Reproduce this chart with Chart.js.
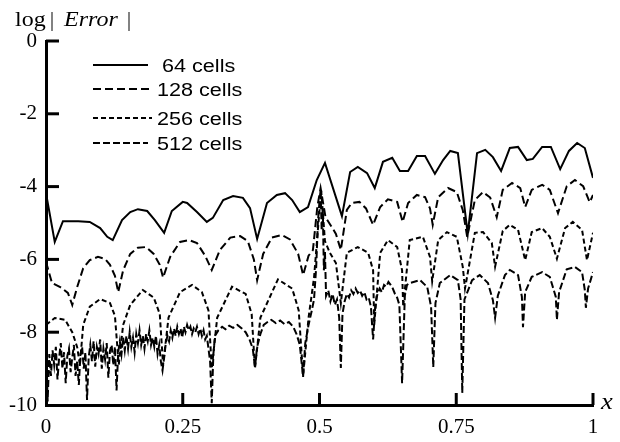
<!DOCTYPE html>
<html>
<head>
<meta charset="utf-8">
<script src="https://cdn.jsdelivr.net/npm/chart.js@4.4.1/dist/chart.umd.min.js"></script>
<style>
  html, body { margin: 0; padding: 0; background: #fff; }
  canvas { display: block; }
</style>
</head>
<body>
<canvas id="errChart" width="620" height="442"></canvas>
<script>
const xTicks = [0, 0.25, 0.5, 0.75, 1]
const xTickLabels = ['0', '0.25', '0.5', '0.75', '1']
const yTicks = [0, -2, -4, -6, -8, -10]
const yTickLabels = ['0', '-2', '-4', '-6', '-8', '-10']
const seriesNames = ['64 cells', '128 cells', '256 cells', '512 cells']

// [x, log|error|]
const cells64 = [
    [0, -4.18], [0.016, -5.52], [0.031, -4.95], [0.059, -4.95], [0.080, -4.97], [0.099, -5.14],
    [0.112, -5.38], [0.122, -5.47], [0.139, -4.92], [0.154, -4.70], [0.168, -4.62], [0.185, -4.67],
    [0.199, -4.92], [0.216, -5.27], [0.230, -4.67], [0.250, -4.42], [0.258, -4.45], [0.276, -4.70],
    [0.294, -4.97], [0.305, -4.86], [0.324, -4.37], [0.342, -4.26], [0.360, -4.31], [0.373, -4.59],
    [0.386, -5.44], [0.404, -4.45], [0.422, -4.23], [0.437, -4.18], [0.450, -4.37], [0.464, -4.70],
    [0.479, -4.56], [0.495, -3.82], [0.510, -3.35], [0.541, -4.81], [0.556, -3.60], [0.570, -3.46],
    [0.587, -3.63], [0.601, -4.04], [0.616, -3.32], [0.633, -3.21], [0.647, -3.57], [0.662, -3.57],
    [0.678, -3.16], [0.693, -3.16], [0.711, -3.65], [0.726, -3.27], [0.739, -3.02], [0.753, -3.08],
    [0.771, -5.30], [0.788, -3.08], [0.803, -2.99], [0.817, -3.19], [0.832, -3.57], [0.848, -2.94],
    [0.863, -2.91], [0.879, -3.27], [0.890, -3.24], [0.907, -2.91], [0.923, -2.91], [0.940, -3.52],
    [0.956, -3.02], [0.971, -2.80], [0.985, -2.94], [1.000, -3.76]
]

const cells128 = [
    [0, -6.07], [0.011, -6.65], [0.026, -6.76], [0.040, -6.92], [0.048, -7.25], [0.057, -6.76],
    [0.068, -6.24], [0.080, -6.02], [0.095, -5.93], [0.108, -5.99], [0.117, -6.15], [0.126, -6.45],
    [0.132, -6.90], [0.141, -6.30], [0.154, -5.85], [0.168, -5.68], [0.183, -5.66], [0.197, -5.85],
    [0.208, -6.15], [0.214, -6.50], [0.227, -5.93], [0.245, -5.52], [0.262, -5.47], [0.276, -5.55],
    [0.291, -5.90], [0.303, -6.29], [0.318, -5.74], [0.337, -5.40], [0.355, -5.36], [0.369, -5.50],
    [0.380, -6.00], [0.386, -6.57], [0.397, -5.85], [0.413, -5.40], [0.431, -5.33], [0.446, -5.45],
    [0.461, -5.85], [0.470, -6.43], [0.480, -5.90], [0.488, -5.74], [0.496, -4.56], [0.502, -4.04],
    [0.511, -4.84], [0.522, -5.10], [0.530, -5.30], [0.539, -5.74], [0.550, -4.64], [0.559, -4.45],
    [0.573, -4.42], [0.585, -4.60], [0.598, -5.05], [0.611, -4.56], [0.625, -4.35], [0.642, -4.42],
    [0.652, -4.97], [0.662, -4.45], [0.678, -4.23], [0.693, -4.29], [0.702, -4.60], [0.707, -5.05],
    [0.717, -4.29], [0.735, -4.04], [0.751, -4.15], [0.762, -4.65], [0.770, -5.38], [0.784, -4.37],
    [0.799, -4.15], [0.812, -4.30], [0.824, -4.84], [0.835, -4.09], [0.852, -3.90], [0.867, -4.04],
    [0.876, -4.56], [0.888, -4.09], [0.907, -3.95], [0.921, -4.09], [0.936, -4.73], [0.952, -3.99],
    [0.967, -3.82], [0.982, -3.99], [0.994, -4.43], [1.000, -4.23]
]

const cells256 = [
    [0, -7.80], [0.016, -7.61], [0.035, -7.66], [0.048, -8.00], [0.057, -8.41], [0.062, -8.90],
    [0.068, -7.80], [0.080, -7.30], [0.099, -7.09], [0.117, -7.20], [0.126, -7.55], [0.133, -8.90],
    [0.141, -7.80], [0.154, -7.25], [0.177, -6.84], [0.197, -7.05], [0.208, -7.50], [0.214, -8.90],
    [0.224, -7.60], [0.245, -6.90], [0.267, -6.70], [0.285, -6.90], [0.297, -7.40], [0.303, -9.00],
    [0.313, -7.60], [0.340, -6.75], [0.365, -6.95], [0.376, -7.50], [0.382, -9.00], [0.392, -7.60],
    [0.424, -6.55], [0.450, -6.80], [0.462, -7.40], [0.470, -9.20], [0.480, -7.60], [0.490, -6.50],
    [0.497, -5.20], [0.503, -4.10], [0.510, -5.50], [0.519, -5.82], [0.530, -6.10], [0.539, -7.20],
    [0.550, -5.82], [0.570, -5.66], [0.589, -5.82], [0.598, -6.30], [0.600, -7.80], [0.611, -5.82],
    [0.625, -5.47], [0.642, -5.66], [0.651, -6.30], [0.653, -7.30], [0.665, -5.47], [0.689, -5.38],
    [0.702, -5.93], [0.706, -6.60], [0.717, -5.47], [0.733, -5.25], [0.751, -5.38], [0.762, -6.21],
    [0.766, -6.80], [0.784, -5.27], [0.799, -5.25], [0.815, -5.55], [0.821, -6.20], [0.835, -5.22],
    [0.848, -5.05], [0.863, -5.19], [0.876, -6.02], [0.888, -5.25], [0.907, -5.14], [0.921, -5.38],
    [0.934, -5.98], [0.949, -5.14], [0.963, -4.97], [0.980, -5.19], [0.989, -6.02], [1.000, -5.27]
]

const cells512 = [
    [0, -8.10], [0.003, -9.90], [0.006, -8.60], [0.009, -9.20], [0.012, -8.50], [0.015, -8.90],
    [0.018, -8.40], [0.021, -9.30], [0.024, -8.70], [0.027, -8.30], [0.030, -9.00], [0.033, -8.55],
    [0.036, -9.40], [0.039, -8.65], [0.042, -8.45], [0.045, -9.10], [0.048, -8.70], [0.051, -8.35],
    [0.054, -9.20], [0.057, -8.80], [0.060, -9.45], [0.063, -8.60], [0.066, -8.40], [0.069, -9.00],
    [0.072, -8.55], [0.075, -9.86], [0.078, -8.70], [0.081, -8.35], [0.084, -8.80], [0.087, -8.25],
    [0.090, -8.95], [0.093, -8.40], [0.096, -8.60], [0.099, -8.20], [0.102, -9.00], [0.105, -8.45],
    [0.108, -8.75], [0.111, -8.30], [0.114, -9.25], [0.117, -8.50], [0.120, -8.35], [0.123, -8.90],
    [0.126, -8.40], [0.129, -9.60], [0.132, -8.55], [0.135, -8.25], [0.138, -8.60], [0.141, -8.15],
    [0.144, -8.50], [0.147, -8.10], [0.150, -8.45], [0.153, -8.00], [0.156, -8.40], [0.159, -8.15],
    [0.162, -8.55], [0.165, -8.05], [0.168, -8.30], [0.171, -7.95], [0.174, -8.35], [0.177, -8.10],
    [0.180, -8.45], [0.183, -8.05], [0.186, -8.25], [0.189, -7.95], [0.192, -8.35], [0.195, -8.15],
    [0.198, -8.40], [0.201, -8.10], [0.204, -8.60], [0.207, -8.35], [0.210, -8.80], [0.213, -9.05],
    [0.216, -8.70], [0.219, -8.30], [0.222, -8.10], [0.225, -8.25], [0.228, -7.95], [0.231, -8.15],
    [0.234, -7.90], [0.237, -8.10], [0.240, -7.85], [0.243, -8.05], [0.246, -7.90], [0.249, -8.15],
    [0.252, -7.85], [0.255, -8.00], [0.258, -7.80], [0.261, -7.95], [0.264, -7.85], [0.267, -8.05],
    [0.270, -7.90], [0.273, -8.00], [0.276, -7.85], [0.279, -8.05], [0.282, -7.90], [0.285, -8.10],
    [0.288, -7.95], [0.291, -8.20], [0.294, -8.10], [0.297, -8.45], [0.300, -8.80], [0.303, -9.95],
    [0.306, -8.60], [0.309, -8.10], [0.315, -7.95], [0.322, -7.85], [0.328, -7.92], [0.335, -7.82],
    [0.342, -7.88], [0.350, -7.80], [0.358, -7.90], [0.365, -8.00], [0.372, -8.20], [0.378, -8.45],
    [0.382, -8.96], [0.386, -8.40], [0.392, -8.05], [0.398, -7.80], [0.405, -7.72], [0.412, -7.66],
    [0.420, -7.75], [0.428, -7.68], [0.436, -7.78], [0.444, -7.72], [0.452, -7.85], [0.458, -8.05],
    [0.464, -8.35], [0.470, -9.23], [0.474, -8.30], [0.480, -7.80], [0.486, -7.40], [0.490, -7.10],
    [0.494, -6.20], [0.497, -5.00], [0.500, -4.40], [0.502, -4.10], [0.504, -5.20], [0.506, -4.60],
    [0.508, -6.30], [0.510, -5.80], [0.512, -7.00], [0.516, -6.85], [0.520, -7.15], [0.524, -6.95],
    [0.528, -7.25], [0.532, -7.10], [0.536, -7.60], [0.539, -8.98], [0.542, -7.50], [0.546, -7.15],
    [0.550, -6.95], [0.554, -7.05], [0.558, -6.85], [0.562, -6.95], [0.566, -6.80], [0.570, -6.92],
    [0.574, -6.85], [0.578, -7.00], [0.582, -6.90], [0.586, -7.10], [0.590, -7.05], [0.594, -7.30],
    [0.598, -8.20], [0.602, -7.25], [0.606, -6.95], [0.610, -6.80], [0.614, -6.90], [0.618, -6.70],
    [0.622, -6.75], [0.626, -6.62], [0.630, -6.70], [0.634, -6.80], [0.638, -6.95], [0.642, -7.05],
    [0.646, -7.25], [0.651, -9.40], [0.656, -7.00], [0.660, -6.70], [0.665, -6.65], [0.684, -6.57],
    [0.697, -6.76], [0.704, -7.30], [0.708, -8.96], [0.712, -7.20], [0.720, -6.65], [0.739, -6.43],
    [0.753, -6.57], [0.758, -7.10], [0.761, -9.67], [0.765, -7.10], [0.779, -6.57], [0.793, -6.43],
    [0.808, -6.65], [0.817, -7.12], [0.821, -7.60], [0.826, -7.00], [0.839, -6.43], [0.848, -6.29],
    [0.863, -6.43], [0.870, -7.03], [0.872, -7.86], [0.876, -6.90], [0.888, -6.48], [0.907, -6.35],
    [0.921, -6.48], [0.932, -7.03], [0.934, -7.66], [0.938, -6.90], [0.952, -6.27], [0.967, -6.21],
    [0.980, -6.35], [0.985, -6.84], [0.987, -7.33], [0.991, -6.80], [1.000, -6.35]
]

const allSeries = [cells64, cells128, cells256, cells512]
const dashes = [[], [8, 4], [5, 3], [7, 3]]

function stretchText(ctx, text, x, y, font, sx, align) {
    ctx.save()
    ctx.font = font
    ctx.fillStyle = '#000'
    ctx.textAlign = align || 'left'
    ctx.textBaseline = 'alphabetic'
    ctx.translate(x, y)
    ctx.scale(sx, 1)
    ctx.fillText(text, 0, 0)
    ctx.restore()
}

// inward ticks on both axes
const axisTicks = {
    id: 'axisTicks',
    afterDraw(chart) {
        const { ctx, chartArea, scales } = chart
        ctx.save()
        ctx.strokeStyle = '#000'
        ctx.lineWidth = 3
        yTicks.slice(0, -1).forEach(v => {
            const py = scales.y.getPixelForValue(v)
            ctx.beginPath()
            ctx.moveTo(chartArea.left, py)
            ctx.lineTo(chartArea.left + 13, py)
            ctx.stroke()
        })
        xTicks.slice(1).forEach(v => {
            const px = scales.x.getPixelForValue(v)
            ctx.beginPath()
            ctx.moveTo(px, chartArea.bottom)
            ctx.lineTo(px, chartArea.bottom - 12)
            ctx.stroke()
        })
        ctx.restore()
    }
}

const legendRows = [65, 89, 118, 143]
const legendTextX = [162, 157, 157, 157]

const labelsPlugin = {
    id: 'labelsPlugin',
    afterDraw(chart) {
        const ctx = chart.ctx
        // axis titles
        const serif = '20px "Liberation Serif", "Times New Roman", serif'
        stretchText(ctx, 'log', 15, 26, serif, 1.2)
        stretchText(ctx, '|', 50, 26, serif, 1.0)
        stretchText(ctx, 'Error', 64, 26, 'italic ' + serif, 1.2)
        stretchText(ctx, '|', 127, 26, serif, 1.0)
        stretchText(ctx, 'x', 601, 409, 'italic 23px "Liberation Serif", serif', 1.15)

        // legend
        chart.data.datasets.forEach((ds, i) => {
            const y = legendRows[i]
            ctx.save()
            ctx.strokeStyle = '#000'
            ctx.lineWidth = 1.8
            ctx.setLineDash(ds.borderDash || [])
            ctx.beginPath()
            ctx.moveTo(93, y)
            ctx.lineTo(i === 0 || i === 3 ? 148 : 152, y)
            ctx.stroke()
            ctx.restore()
            stretchText(ctx, ds.label, legendTextX[i], y + 6.5, '18px "Liberation Sans", Arial, sans-serif', 1.2)
        })
    }
}

const tickFont = { family: '"Liberation Serif", "Times New Roman", serif', size: 21 }

new Chart('errChart', {
    type: 'line',
    data: {
        datasets: allSeries.map((s, i) => ({
            label: seriesNames[i],
            data: s.map(p => ({ x: p[0], y: p[1] })),
            borderColor: '#000',
            borderWidth: 2,
            borderDash: dashes[i],
            pointRadius: 0,
            tension: 0,
            fill: false
        }))
    },
    options: {
        responsive: false,
        animation: false,
        layout: { padding: { top: 41, right: 27, bottom: 0, left: 0 } },
        plugins: {
            legend: { display: false },
            tooltip: { enabled: false }
        },
        scales: {
            x: {
                type: 'linear',
                min: 0,
                max: 1,
                afterFit(s) { s.height = 37 },
                afterBuildTicks(s) { s.ticks = xTicks.map(v => ({ value: v })) },
                ticks: {
                    callback: v => xTickLabels[xTicks.indexOf(v)],
                    font: tickFont,
                    color: '#000',
                    padding: 10,
                    maxRotation: 0,
                    autoSkip: false
                },
                grid: { display: false, drawTicks: false },
                border: { display: true, color: '#000', width: 3 }
            },
            y: {
                type: 'linear',
                min: -10,
                max: 0,
                afterFit(s) { s.width = 46 },
                afterBuildTicks(s) { s.ticks = yTicks.slice().reverse().map(v => ({ value: v })) },
                ticks: {
                    callback: v => yTickLabels[yTicks.indexOf(v)],
                    font: tickFont,
                    color: '#000',
                    padding: 9,
                    autoSkip: false
                },
                grid: { display: false, drawTicks: false },
                border: { display: true, color: '#000', width: 3 }
            }
        }
    },
    plugins: [axisTicks, labelsPlugin]
})
</script>
</body>
</html>
